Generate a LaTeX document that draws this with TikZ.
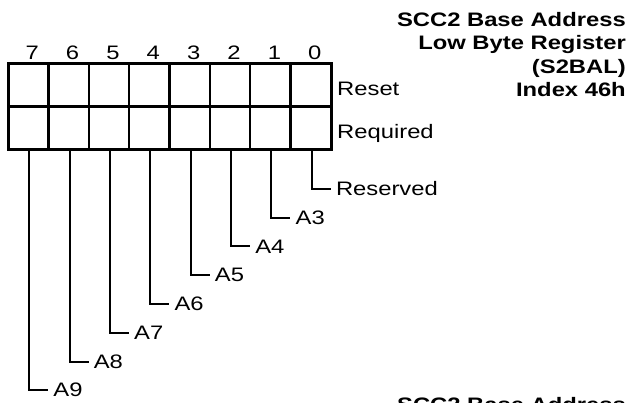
\documentclass[tikz,border=0pt]{standalone}
\usepackage{fontspec}
\setmainfont{Liberation Sans}[FakeStretch=1.22]

\begin{document}
\begin{tikzpicture}[x=1pt, y=-1pt, font=\fontsize{19.5}{23.5}\selectfont,
    cellw/.style={line width=3pt},
    leader/.style={line width=2pt},
    title/.style={font=\fontsize{19.5}{23.5}\selectfont\bfseries, inner sep=0pt}]
  \useasboundingbox (0,0) rectangle (629,403);
  \clip (0,0) rectangle (629,403);
  % Register: 8 bits, two rows
  \draw[cellw] (8,64) rectangle (331,150);
  \draw[cellw] (8,107) -- (331,107);
  \foreach \i in {1,...,7} {
    \draw[line width=2.3pt] ({8+40.375*\i},64) -- ({8+40.375*\i},150);
  }
  % Bit numbers
  \foreach \b in {0,...,7} {
    \node (bit\b) at ({8+40.375*(7.5-\b)+4},52.5) {\b};
  }
  % Row labels
  \node[anchor=base west, inner sep=0pt] (reset) at (337,96) {Reset};
  \node[anchor=base west, inner sep=0pt] (required) at (337,139) {Required};
  % Leaders from each bit
  \foreach \b/\name in {0/Reserved,1/A3,2/A4,3/A5,4/A6,5/A7,6/A8,7/A9} {
    \coordinate (tap\b) at ({8+40.375*(7.5-\b)+1},150);
    \node[anchor=west, inner sep=5pt] (lbl\b) at ({8+40.375*(7.5-\b)+20},{189+28.75*\b}) {\name};
    \draw[leader] (tap\b) |- (lbl\b.west);
  }
  % Register title
  \node[title, anchor=north east, align=right] (head) at (626,12)
    {SCC2 Base Address\\Low Byte Register\\(S2BAL)\\Index 46h};
  % Next title, cut off at the bottom
  \node[title, anchor=north west] (nexthead) at (397,397) {SCC2 Base Address};
\end{tikzpicture}
\end{document}
